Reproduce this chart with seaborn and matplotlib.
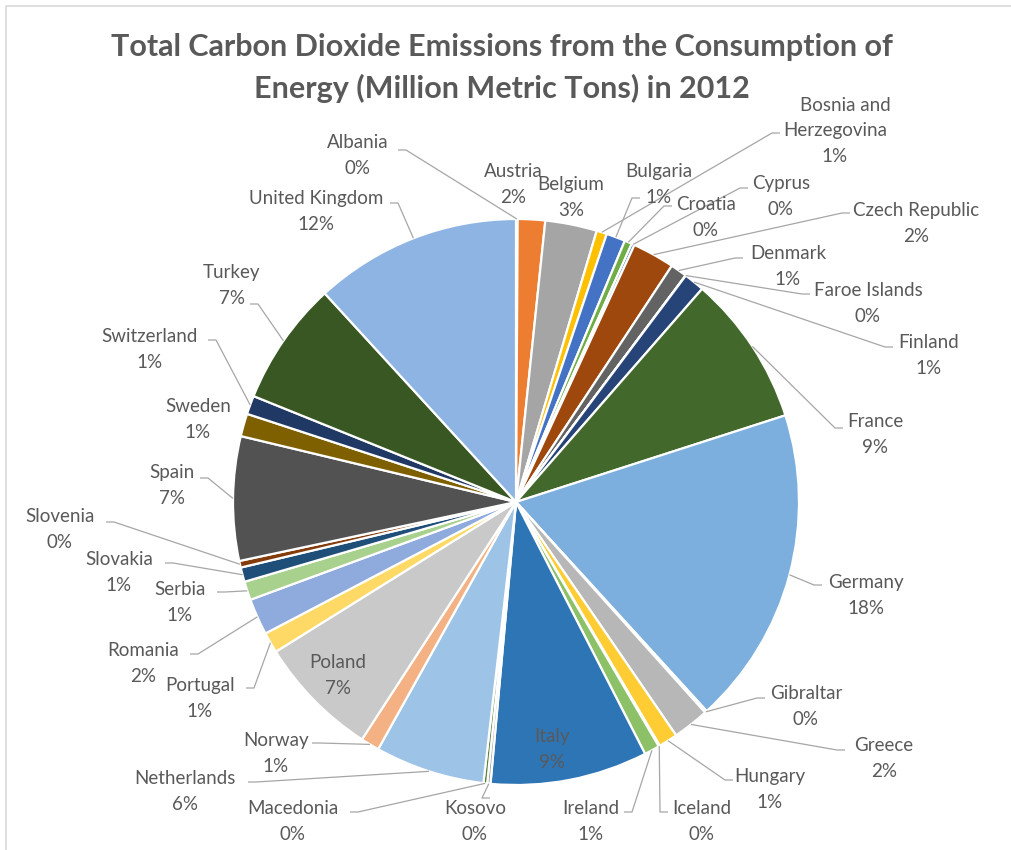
import numpy as np
import matplotlib
matplotlib.use("Agg")
import matplotlib.pyplot as plt
import seaborn as sns

# data (million metric tons, 2012)
countries = ["Albania", "Austria", "Belgium", "Bosnia and\nHerzegovina", "Bulgaria",
             "Croatia", "Cyprus", "Czech Republic", "Denmark", "Faroe Islands",
             "Finland", "France", "Germany", "Gibraltar", "Greece", "Hungary",
             "Iceland", "Ireland", "Italy", "Kosovo", "Macedonia", "Netherlands",
             "Norway", "Poland", "Portugal", "Romania", "Serbia", "Slovakia",
             "Slovenia", "Spain", "Sweden", "Switzerland", "Turkey", "United Kingdom"]
emissions = [4, 66, 125, 25, 46,
             18, 7, 102, 40, 0.7,
             50, 365, 770, 5, 88, 46,
             3, 37, 380, 8, 9, 265,
             45, 295, 50, 88, 45, 35,
             16, 300, 55, 45, 300, 500]
colors = ["#5B9BD5", "#ED7D31", "#A5A5A5", "#FFC000", "#4472C4",
          "#70AD47", "#255E91", "#9E480E", "#636363", "#997300",
          "#264478", "#43682B", "#7CAFDD", "#F1975A", "#B7B7B7", "#FFCD33",
          "#698ED0", "#8CC168", "#2E75B6", "#A5A5A5", "#548235", "#9DC3E6",
          "#F4B183", "#C9C9C9", "#FFD966", "#8FAADC", "#A9D18E", "#1F4E79",
          "#843C0C", "#525252", "#7F6000", "#203864", "#385723", "#8DB4E2"]

# label placement (pixel coords of first text line) and leader attach points
label_xy = [(358, 143), (513, 172), (571, 185), (835, 105), (659, 172),
            (706, 205), (781, 184), (916, 211), (788, 254), (868, 291),
            (929, 343), (875, 422), (866, 583), (806, 694), (884, 746), (770, 777),
            (702, 809), (591, 809), (552, 737), (475, 809), (293, 809), (185, 779),
            (276, 741), (338, 663), (200, 686), (143, 651), (180, 590), (119, 560),
            (60, 517), (172, 473), (198, 407), (150, 337), (232, 273), (316, 199)]
leader_xy = [(398, 150), None, None, (780, 133), (640, 198),
             (672, 206), (748, 188), (850, 213), (743, 258), (810, 294),
             (893, 347), (843, 428), (822, 585), (765, 698), (845, 750), (733, 780),
             (668, 812), (624, 812), None, (490, 798), (350, 812), (248, 782),
             (312, 743), None, (246, 688), (190, 654), (217, 592), (165, 563),
             (106, 522), (200, 478), None, (208, 340), (250, 304), (390, 203)]

W, H = 1012, 850
CX, CY, R = 516, 502, 283
FS = 13.5
LS = 1.6

sns.set_theme(style="white")
plt.rcParams["font.family"] = ["Lato", "DejaVu Sans"]

fig = plt.figure(figsize=(W / 100, H / 100), dpi=100)
ax = fig.add_axes([0, 0, 1, 1])


def P(x, y):
    return x, H - y


wedges, _ = ax.pie(emissions, colors=colors, startangle=90, counterclock=False,
                   center=P(CX, CY), radius=R,
                   wedgeprops=dict(edgecolor="white", linewidth=1.6))
# pie() resets the limits, so set them afterwards
ax.set_xlim(0, W)
ax.set_ylim(0, H)
ax.set_aspect("equal")
ax.axis("off")

total = sum(emissions)
txt_col = "#595959"
line_col = "#A6A6A6"
for i, w in enumerate(wedges):
    pct = emissions[i] / total * 100
    lx, ly = label_xy[i]
    name = countries[i]
    if name.startswith("Bosnia"):
        ax.text(*P(845, ly), "Bosnia and", ha="center", va="center",
                fontsize=FS, color=txt_col)
        ax.text(*P(lx, ly + 26 + 12.5), "Herzegovina\n%.0f%%" % pct, ha="center",
                va="center", fontsize=FS, color=txt_col, linespacing=LS)
    else:
        ax.text(*P(lx, ly + 12.5), "%s\n%.0f%%" % (name, pct), ha="center",
                va="center", fontsize=FS, color=txt_col, linespacing=LS)
    if leader_xy[i] is None:
        continue
    mid = np.deg2rad((w.theta1 + w.theta2) / 2)
    ex = w.center[0] + w.r * np.cos(mid)
    ey = w.center[1] + w.r * np.sin(mid)
    axx, ayy = P(*leader_xy[i])
    stub = 8 if ex > axx else -8
    ax.plot([axx, axx + stub, ex], [ayy, ayy, ey], color=line_col, lw=0.9,
            solid_capstyle="butt")

ax.text(*P(502, 47), "Total Carbon Dioxide Emissions from the Consumption of",
        ha="center", va="center", fontsize=22, fontweight="bold", color=txt_col)
ax.text(*P(502, 88), "Energy (Million Metric Tons) in 2012",
        ha="center", va="center", fontsize=22, fontweight="bold", color=txt_col)

# chart area border (top and left visible)
ax.plot([6, 6, W], [0, H - 6, H - 6], color="#D9D9D9", lw=1.2)

fig.savefig("out.png", dpi=100)
